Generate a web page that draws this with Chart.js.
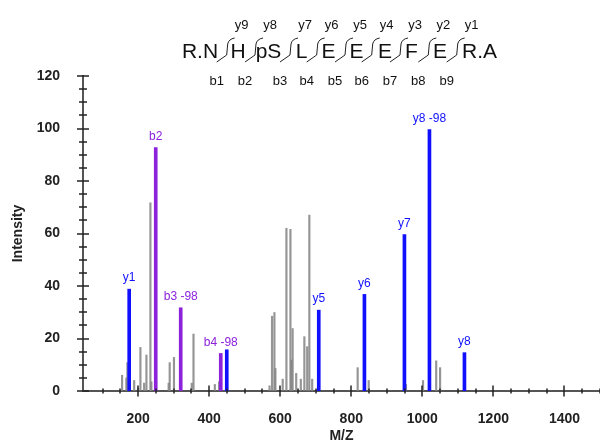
<!DOCTYPE html>
<html>
<head>
<meta charset="utf-8">
<script src="https://cdn.jsdelivr.net/npm/chart.js@4.4.1/dist/chart.umd.min.js"></script>
<style>
  html, body { margin: 0; padding: 0; background: #fff; }
  #wrap { width: 600px; height: 441px; position: relative; }
</style>
</head>
<body>
<div id="wrap"><canvas id="spectrum"></canvas></div>
<script>
// unassigned peaks (grey)
const grayMz = [155, 167, 170, 189, 200, 206.6, 217, 223.5, 234.7, 237.5, 286, 289, 301, 351, 356, 416, 428,
  570, 577, 583.7, 586.5, 607, 617.5, 628.8, 631.6, 635, 645, 658, 668, 676, 682, 690,
  818, 849, 954, 1002, 1039, 1050];
const grayInt = [6, 5, 10.8, 4, 1, 16.6, 3, 13.7, 71.7, 3.5, 3, 10.8, 12.8, 3, 21.7, 2.5, 3.5,
  2, 28.5, 29.9, 8.6, 4.5, 62, 61.6, 11.8, 23.8, 6.7, 4.5, 20.7, 16.9, 67, 4.5,
  8.9, 4, 2.5, 4, 11.5, 8.9];

// y ions (blue)
const yIonMz = [175, 449.6, 708.5, 837, 949.6, 1020, 1118.5];
const yIonInt = [38.8, 15.7, 30.8, 36.8, 59.6, 99.6, 14.6];
const yIonLabels = ['y1', '', 'y5', 'y6', 'y7', 'y8 -98', 'y8'];

// b ions (purple)
const bIonMz = [249.7, 320, 432.7];
const bIonInt = [92.7, 31.7, 14.3];
const bIonLabels = ['b2', 'b3 -98', 'b4 -98'];

// peptide header
const sequence = ['R.N', 'H', 'pS', 'L', 'E', 'E', 'E', 'F', 'E', 'R.A'];
const yFragments = ['y9', 'y8', 'y7', 'y6', 'y5', 'y4', 'y3', 'y2', 'y1'];
const bFragments = ['b1', 'b2', 'b3', 'b4', 'b5', 'b6', 'b7', 'b8', 'b9'];

const BLUE = '#1010ff';
const PURPLE = '#8c22dc';
const FONT = "'Liberation Sans', Arial, sans-serif";

function toPoints(xs, ys) {
  return xs.map((x, i) => ({ x: x, y: ys[i] }));
}

// header layout (pixel positions of the sequence drawing)
const seqCenters = [200, 238, 268.5, 301.5, 328.5, 356.5, 385, 411.5, 440, 479.5];
const cutX = [216.7, 245, 280, 306.7, 335, 361.7, 390, 418.3, 446.7];

const headerPlugin = {
  id: 'header',
  afterDraw(chart) {
    const ctx = chart.ctx;
    ctx.save();
    ctx.fillStyle = '#111';
    ctx.textAlign = 'center';
    ctx.textBaseline = 'alphabetic';
    ctx.font = '21px ' + FONT;
    sequence.forEach((s, i) => ctx.fillText(s, seqCenters[i], 58));
    ctx.font = '13px ' + FONT;
    yFragments.forEach((s, i) => ctx.fillText(s, cutX[i] + 25, 29));
    bFragments.forEach((s, i) => ctx.fillText(s, cutX[i], 85));
    // fragmentation marks
    ctx.strokeStyle = '#222';
    ctx.lineWidth = 1;
    cutX.forEach(x => {
      ctx.beginPath();
      ctx.moveTo(x, 62);
      ctx.lineTo(x + 10, 55);
      ctx.lineTo(x + 11, 44);
      ctx.quadraticCurveTo(x + 12, 39, x + 18, 38);
      ctx.stroke();
    });
    ctx.restore();
  }
};

// axis tick marks crossing the axis lines, minor + major
const ticksPlugin = {
  id: 'crossTicks',
  afterDraw(chart) {
    const ctx = chart.ctx;
    const xs = chart.scales.x;
    const ys = chart.scales.y;
    const y0 = ys.getPixelForValue(0);
    const x0 = xs.left;
    ctx.save();
    ctx.strokeStyle = '#222';
    ctx.lineWidth = 1.5;
    xs.ticks.forEach(t => {
      if (t.value % 50 !== 0) return;
      const px = Math.round(xs.getPixelForValue(t.value));
      const len = t.value % 200 === 0 ? 5.5 : 2.5;
      ctx.beginPath();
      ctx.moveTo(px, y0 - len);
      ctx.lineTo(px, y0 + len);
      ctx.stroke();
    });
    ys.ticks.forEach(t => {
      const py = Math.round(ys.getPixelForValue(t.value));
      const len = t.value % 20 === 0 ? 6 : 4;
      ctx.beginPath();
      ctx.moveTo(x0 - len, py);
      ctx.lineTo(x0 + len, py);
      ctx.stroke();
    });
    ctx.restore();
  }
};

// ion labels above the coloured peaks
const labelPlugin = {
  id: 'ionLabels',
  afterDatasetsDraw(chart) {
    const ctx = chart.ctx;
    ctx.save();
    ctx.font = '12px ' + FONT;
    ctx.textAlign = 'center';
    ctx.textBaseline = 'bottom';
    chart.data.datasets.forEach((ds, di) => {
      if (!ds.ionLabels) return;
      const meta = chart.getDatasetMeta(di);
      ctx.fillStyle = ds.backgroundColor;
      meta.data.forEach((el, i) => {
        const txt = ds.ionLabels[i];
        if (txt) ctx.fillText(txt, el.x, el.y - 5);
      });
    });
    ctx.restore();
  }
};

const ctx = document.getElementById('spectrum').getContext('2d');
const chart = new Chart(ctx, {
  type: 'bar',
  data: {
    datasets: [
      {
        label: 'y ions',
        data: toPoints(yIonMz, yIonInt),
        backgroundColor: BLUE,
        barThickness: 3,
        ionLabels: yIonLabels,
        order: 1
      },
      {
        label: 'b ions',
        data: toPoints(bIonMz, bIonInt),
        backgroundColor: PURPLE,
        barThickness: 3,
        ionLabels: bIonLabels,
        order: 1
      },
      {
        label: 'other',
        data: toPoints(grayMz, grayInt),
        backgroundColor: 'rgba(130,130,130,0.85)',
        barThickness: 1.5,
        order: 2
      }
    ]
  },
  options: {
    responsive: true,
    maintainAspectRatio: false,
    animation: false,
    layout: { padding: { top: 76, right: 0, left: 0, bottom: 0 } },
    datasets: { bar: { grouped: false } },
    plugins: {
      legend: { display: false },
      tooltip: { enabled: false }
    },
    scales: {
      x: {
        type: 'linear',
        offset: false,
        min: 45,
        max: 1500,
        grid: { display: false },
        border: { display: true, color: '#555', width: 2 },
        ticks: {
          stepSize: 50,
          autoSkip: false,
          maxRotation: 0,
          padding: 12,
          color: '#222',
          font: { family: FONT, size: 14, weight: 'bold' },
          callback: v => (v % 200 === 0 ? v : '')
        },
        title: {
          display: true,
          text: 'M/Z',
          color: '#222',
          padding: { top: 0, bottom: -4 },
          font: { family: FONT, size: 14, weight: 'bold' }
        },
        afterFit: scale => {
          scale.height = 50;
          scale.paddingRight = 0;
          scale.paddingLeft = 0;
        }
      },
      y: {
        min: 0,
        max: 120,
        grid: { display: false },
        border: { display: true, color: '#555', width: 2 },
        ticks: {
          stepSize: 5,
          autoSkip: false,
          padding: 15,
          color: '#222',
          font: { family: FONT, size: 14, weight: 'bold' },
          callback: v => (v % 20 === 0 ? v : '')
        },
        title: {
          display: true,
          text: 'Intensity',
          color: '#222',
          padding: { top: 10, bottom: 0 },
          font: { family: FONT, size: 14, weight: 'bold' }
        },
        afterFit: scale => { scale.width = 83; }
      }
    }
  },
  plugins: [headerPlugin, ticksPlugin, labelPlugin]
});
</script>
</body>
</html>
